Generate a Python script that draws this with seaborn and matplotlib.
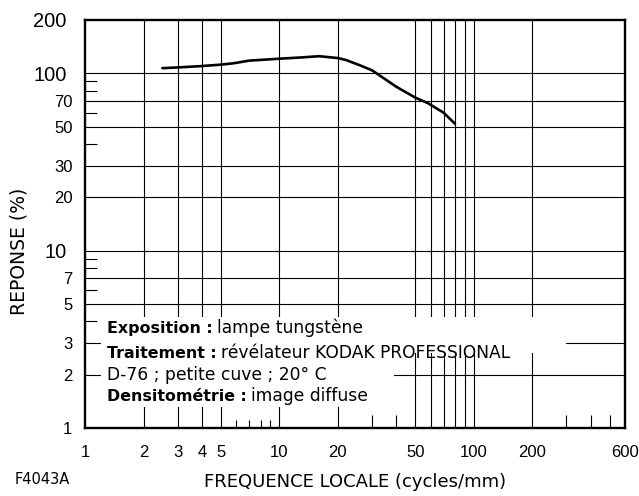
import matplotlib
matplotlib.use("Agg")
import matplotlib.pyplot as plt
import matplotlib.transforms as mtransforms
from matplotlib.patches import Rectangle
from matplotlib.ticker import NullFormatter
import seaborn as sns

# courbe de réponse
freq = [2.5, 3, 4, 5, 5.8, 7, 10, 13, 16, 20, 22, 26, 30, 40, 50, 58, 70, 80]
response = [107, 108, 110, 112, 114, 118, 121, 123, 125, 122, 119, 111, 104, 84, 73, 68, 60, 52]

x_grid = [2, 3, 4, 5, 10, 20, 50, 60, 70, 80, 90, 100, 200]
y_grid = [2, 3, 5, 7, 10, 20, 30, 50, 70, 100]
x_ticks = [1, 2, 3, 4, 5, 10, 20, 50, 100, 200, 600]
y_ticks = [1, 2, 3, 5, 7, 10, 20, 30, 50, 70, 100, 200]
x_short = [6, 7, 8, 9]
x_long = [30, 40, 300, 400, 500]
y_minor = [4, 6, 8, 9, 40, 60, 80, 90]
big_labels = ["200", "100", "10"]

notes_bold = ["Exposition :", "Traitement :", "", "Densitométrie :"]
notes_text = ["lampe tungstène", "révélateur KODAK PROFESSIONAL",
              "D-76 ; petite cuve ; 20° C", "image diffuse"]

sns.set_style("white")
plt.rcParams['font.family'] = ['Liberation Sans', 'DejaVu Sans']
plt.rcParams['text.color'] = 'black'
wide = ['DejaVu Sans']

fig = plt.figure(figsize=(6.39, 4.96), dpi=100)
ax = fig.add_axes([85 / 639, 68 / 496, 540 / 639, 408 / 496])
ax.set_xscale('log')
ax.set_yscale('log')
ax.set_xlim(1, 600)
ax.set_ylim(1, 200)
ax.set_axisbelow(False)

for x in x_grid:
    ax.axvline(x, color='black', lw=0.8, zorder=1)
for y in y_grid:
    ax.axhline(y, color='black', lw=0.8, zorder=1)

# fond blanc sous la légende
ax.add_patch(Rectangle((1.21, 2.65), 300 - 1.21, 4.23 - 2.65, fc='white', ec='none', zorder=1.5))
ax.add_patch(Rectangle((1.21, 1.31), 39 - 1.21, 2.65 - 1.31, fc='white', ec='none', zorder=1.5))

sns.lineplot(x=freq, y=response, ax=ax, color='black', lw=1.9, zorder=3)

ax.set_xticks(x_ticks, labels=[str(v) for v in x_ticks])
ax.set_xticks([], minor=True)
ax.set_yticks(y_ticks, labels=[str(v) for v in y_ticks])
ax.set_yticks(y_minor, minor=True)
ax.yaxis.set_minor_formatter(NullFormatter())
ax.tick_params(axis='both', which='major', length=0, labelsize=12, labelcolor='black')
ax.tick_params(axis='x', which='major', pad=12)
ax.tick_params(axis='y', which='major', pad=9)
ax.tick_params(axis='y', which='minor', direction='in', length=8.6, width=0.8,
               left=True, color='black')
shift = mtransforms.ScaledTranslation(-6 / 100, 0, fig.dpi_scale_trans)
for lab in ax.get_yticklabels():
    if lab.get_text() in big_labels:
        lab.set_fontsize(14.5)
        lab.set_transform(lab.get_transform() + shift)

ax.vlines(x_short, 0, 8 / 408, transform=ax.get_xaxis_transform(), color='black', lw=0.8)
ax.vlines(x_long, 0, 13 / 408, transform=ax.get_xaxis_transform(), color='black', lw=0.8)

for s in ax.spines.values():
    s.set_color('black')
    s.set_linewidth(1.7)

ax.set_xlabel("FREQUENCE LOCALE (cycles/mm)", fontsize=13, color='black', family=wide)
ax.xaxis.set_label_coords(0.5, -0.11)
ax.set_ylabel("REPONSE (%)", fontsize=13.5, color='black', family=wide)
ax.yaxis.set_label_coords(-0.105, 0.434)

fig.text(15 / 639, 9 / 496, "F4043A", fontsize=10.5, va='bottom', family=wide)

rows_y = [(428 - 333) / 408, (428 - 358) / 408, (428 - 380) / 408, (428 - 401) / 408]
x0 = 22 / 540
fig.canvas.draw()
renderer = fig.canvas.get_renderer()
for b, t, y in zip(notes_bold, notes_text, rows_y):
    xt = x0
    if b:
        bt = ax.text(x0, y, b, weight='bold', fontsize=11.4, va='baseline',
                     transform=ax.transAxes, zorder=4, family=wide)
        bb = bt.get_window_extent(renderer)
        xt = ax.transAxes.inverted().transform((bb.x1, bb.y0))[0] + 4 / 540
    ax.text(xt, y, t, fontsize=12.3, va='baseline', transform=ax.transAxes, zorder=4,
            family=wide)

fig.savefig('out.png', dpi=100)
